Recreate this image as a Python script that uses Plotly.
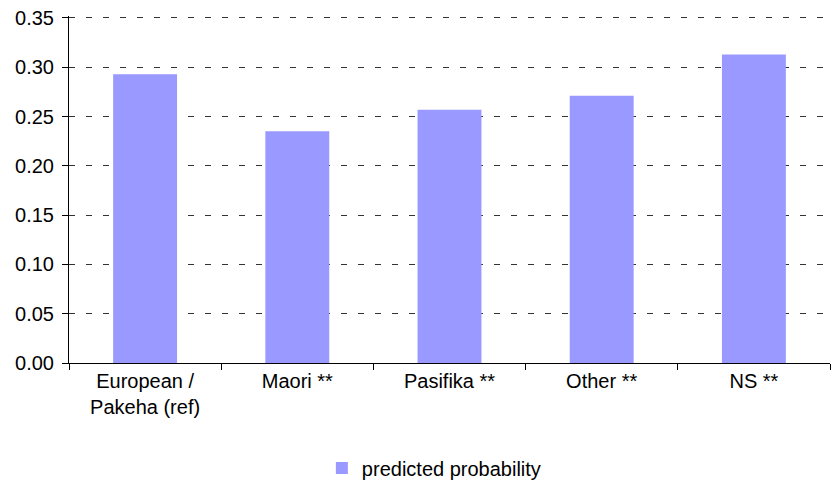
import plotly.graph_objects as go

# data
categories = ["European /<br>Pakeha (ref)", "Maori **", "Pasifika **", "Other **", "NS **"]
probability = [0.293, 0.235, 0.257, 0.271, 0.313]
series_name = "predicted probability"
y_ticks = [0.00, 0.05, 0.10, 0.15, 0.20, 0.25, 0.30, 0.35]

fig = go.Figure()

fig.add_trace(go.Bar(
    x=categories,
    y=probability,
    name=series_name,
    marker=dict(color="#9999FF", line=dict(width=0)),
    showlegend=True
))

fig.update_layout(
    width=836,
    height=482,
    margin=dict(l=69, r=6, t=16, b=119),
    paper_bgcolor="white",
    plot_bgcolor="white",
    font=dict(family="Liberation Sans, Arial, sans-serif", size=20, color="black"),
    bargap=0.58,
    showlegend=True,
    legend=dict(
        orientation="h",
        xref="container", yref="container",
        x=0.385, xanchor="left",
        y=0.029, yanchor="middle",
        font=dict(size=20),
        itemwidth=30
    ),
    xaxis=dict(
        showline=True, linecolor="black", linewidth=1,
        ticks="outside", tickson="boundaries", ticklen=6, tickcolor="black",
        showgrid=False
    ),
    yaxis=dict(
        range=[0, 0.352],
        tickvals=y_ticks,
        tickformat=".2f",
        showline=True, linecolor="black", linewidth=1,
        ticks="outside", ticklen=6, tickcolor="black",
        ticklabelstandoff=4,
        showgrid=True, gridcolor="#333333", gridwidth=1, griddash="6px,11px",
        zeroline=False
    )
)

# drop the page's default body margin so the figure fills the window
fig.write_html(
    "out.html",
    config={"displayModeBar": False},
    post_script="document.body.style.margin='0';document.body.style.overflow='hidden';"
)
